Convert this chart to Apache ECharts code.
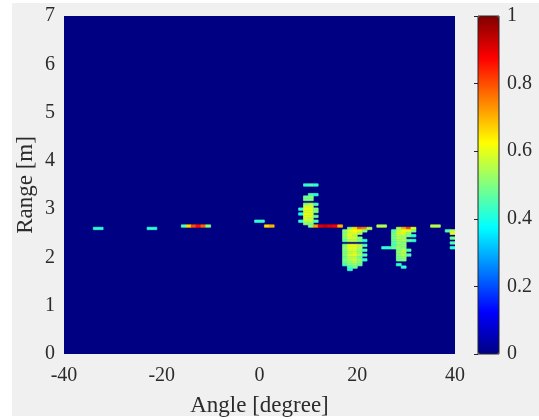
<!DOCTYPE html>
<html>
<head>
<meta charset="utf-8">
<script src="https://cdn.jsdelivr.net/npm/echarts@6/dist/echarts.min.js"></script>
<style>
html,body{margin:0;padding:0;background:#ffffff;}
#bg{position:absolute;left:12px;top:3px;width:527px;height:413px;background:#f0f0f0;}
#chart{position:absolute;left:0;top:0;width:539px;height:420px;}
</style>
</head>
<body>
<div id="bg"></div>
<div id="chart"></div>
<script>
// ---- data: [angle (deg, cell centre), range (m, cell centre), intensity] ----
const angleTicks = [-40, -20, 0, 20, 40];
const rangeTicks = [0, 1, 2, 3, 4, 5, 6, 7];
const colorTicks = [0, 0.2, 0.4, 0.6, 0.8, 1];
const cellAngleStep = 1;
const cellRangeStep = 0.05;

const isolatedCells = [
  [-33.5, 2.60, 0.42], [-32.5, 2.60, 0.42],
  [-22.5, 2.60, 0.42], [-21.5, 2.60, 0.42],
  [-15.5, 2.65, 0.45], [-14.5, 2.65, 0.66], [-13.5, 2.65, 0.80], [-12.5, 2.65, 0.86], [-11.5, 2.65, 0.78], [-10.5, 2.65, 0.50],
  [-0.5, 2.75, 0.42], [0.5, 2.75, 0.42],
  [1.5, 2.65, 0.66], [2.5, 2.65, 0.70],
  [24.5, 2.65, 0.55], [25.5, 2.65, 0.55],
  [35.5, 2.65, 0.55], [36.5, 2.65, 0.55]
];

const redLineCells = [
  [10.5, 2.65, 0.50], [11.5, 2.65, 0.72], [12.5, 2.65, 0.90], [13.5, 2.65, 0.93],
  [14.5, 2.65, 0.90], [15.5, 2.65, 0.88], [16.5, 2.65, 0.70]
];

const cluster10 = [
  [9.5, 3.50, 0.42], [10.5, 3.50, 0.45], [11.5, 3.50, 0.42],
  [10.5, 3.30, 0.45], [11.5, 3.30, 0.42],
  [9.5, 3.25, 0.48], [10.5, 3.25, 0.50],
  [9.5, 3.20, 0.50], [10.5, 3.20, 0.50],
  [9.5, 3.10, 0.50], [10.5, 3.10, 0.55], [11.5, 3.10, 0.45],
  [9.5, 3.05, 0.58], [10.5, 3.05, 0.58],
  [8.5, 3.00, 0.42], [9.5, 3.00, 0.60], [10.5, 3.00, 0.60], [11.5, 3.00, 0.50],
  [9.5, 2.95, 0.58], [10.5, 2.95, 0.60], [11.5, 2.95, 0.50],
  [8.5, 2.90, 0.40], [9.5, 2.90, 0.60], [10.5, 2.90, 0.58],
  [9.5, 2.85, 0.60], [10.5, 2.85, 0.60], [11.5, 2.85, 0.48],
  [9.5, 2.80, 0.58], [10.5, 2.80, 0.56],
  [8.5, 2.75, 0.42], [9.5, 2.75, 0.55], [10.5, 2.75, 0.58], [11.5, 2.75, 0.45],
  [9.5, 2.70, 0.52], [10.5, 2.70, 0.50]
];

const cluster20 = [
  [18.5, 2.60, 0.50], [19.5, 2.60, 0.65], [20.5, 2.60, 0.78], [21.5, 2.60, 0.75], [22.5, 2.60, 0.55],
  [17.5, 2.55, 0.50], [18.5, 2.55, 0.60], [19.5, 2.55, 0.62], [20.5, 2.55, 0.60], [21.5, 2.55, 0.50],
  [17.5, 2.50, 0.50], [18.5, 2.50, 0.58], [19.5, 2.50, 0.60], [20.5, 2.50, 0.55],
  [17.5, 2.45, 0.52], [18.5, 2.45, 0.60], [19.5, 2.45, 0.55],
  [17.5, 2.40, 0.50], [18.5, 2.40, 0.58], [19.5, 2.40, 0.58], [20.5, 2.40, 0.50],
  [17.5, 2.35, 0.48], [18.5, 2.35, 0.55], [19.5, 2.35, 0.55], [20.5, 2.35, 0.50], [21.5, 2.35, 0.42],
  [17.5, 2.25, 0.50], [18.5, 2.25, 0.60], [19.5, 2.25, 0.60], [20.5, 2.25, 0.55], [21.5, 2.25, 0.45],
  [17.5, 2.20, 0.52], [18.5, 2.20, 0.60], [19.5, 2.20, 0.60], [20.5, 2.20, 0.55],
  [17.5, 2.15, 0.50], [18.5, 2.15, 0.58], [19.5, 2.15, 0.58], [20.5, 2.15, 0.52], [21.5, 2.15, 0.45],
  [17.5, 2.10, 0.50], [18.5, 2.10, 0.55], [19.5, 2.10, 0.58], [20.5, 2.10, 0.50],
  [17.5, 2.05, 0.50], [18.5, 2.05, 0.58], [19.5, 2.05, 0.60], [20.5, 2.05, 0.55], [21.5, 2.05, 0.45],
  [17.5, 2.00, 0.48], [18.5, 2.00, 0.55], [19.5, 2.00, 0.55], [20.5, 2.00, 0.48],
  [17.5, 1.95, 0.50], [18.5, 1.95, 0.55], [19.5, 1.95, 0.58], [20.5, 1.95, 0.52], [21.5, 1.95, 0.42],
  [17.5, 1.90, 0.48], [18.5, 1.90, 0.52], [19.5, 1.90, 0.55], [20.5, 1.90, 0.50],
  [17.5, 1.85, 0.45], [18.5, 1.85, 0.50], [19.5, 1.85, 0.52], [20.5, 1.85, 0.48],
  [18.5, 1.80, 0.45], [19.5, 1.80, 0.48],
  [18.5, 1.75, 0.42]
];

const cluster30 = [
  [28.5, 2.60, 0.55], [29.5, 2.60, 0.70], [30.5, 2.60, 0.80], [31.5, 2.60, 0.62],
  [27.5, 2.55, 0.45], [28.5, 2.55, 0.55], [29.5, 2.55, 0.60], [30.5, 2.55, 0.60], [31.5, 2.55, 0.50],
  [27.5, 2.50, 0.48], [28.5, 2.50, 0.58], [29.5, 2.50, 0.60], [30.5, 2.50, 0.52],
  [27.5, 2.45, 0.50], [28.5, 2.45, 0.55], [29.5, 2.45, 0.55], [30.5, 2.45, 0.50], [31.5, 2.45, 0.42],
  [27.5, 2.40, 0.48], [28.5, 2.40, 0.55], [29.5, 2.40, 0.52],
  [27.5, 2.35, 0.48], [28.5, 2.35, 0.52], [29.5, 2.35, 0.55], [30.5, 2.35, 0.48], [31.5, 2.35, 0.42],
  [27.5, 2.30, 0.45], [28.5, 2.30, 0.52], [29.5, 2.30, 0.50],
  [27.5, 2.25, 0.45], [28.5, 2.25, 0.50], [29.5, 2.25, 0.52],
  [25.5, 2.20, 0.42], [26.5, 2.20, 0.42], [27.5, 2.20, 0.48], [28.5, 2.20, 0.52], [29.5, 2.20, 0.50],
  [28.5, 2.15, 0.50], [29.5, 2.15, 0.55], [30.5, 2.15, 0.45],
  [28.5, 2.10, 0.52], [29.5, 2.10, 0.55],
  [28.5, 2.05, 0.50], [29.5, 2.05, 0.55], [30.5, 2.05, 0.45],
  [28.5, 2.00, 0.50], [29.5, 2.00, 0.52],
  [28.5, 1.95, 0.48], [29.5, 1.95, 0.50],
  [28.5, 1.85, 0.42],
  [29.5, 1.80, 0.42]
];

const cluster40 = [
  [38.5, 2.55, 0.45], [39.5, 2.55, 0.55],
  [39.5, 2.50, 0.60],
  [39.5, 2.40, 0.48],
  [39.5, 2.30, 0.45],
  [39.5, 2.20, 0.42]
];

const jetColors = ['#000083', '#0000ff', '#0080ff', '#00ffff', '#80ff80', '#ffff00', '#ff8000', '#ff0000', '#800000'];

const allCells = [].concat(isolatedCells, redLineCells, cluster10, cluster20, cluster30, cluster40);

const FONT = "'Liberation Serif', 'Times New Roman', serif";
const TXT = '#2b2b2b';

const chart = echarts.init(document.getElementById('chart'), null, {renderer: 'canvas'});
chart.setOption({
  backgroundColor: 'transparent',
  animation: false,
  grid: [
    {left: 64, top: 16, width: 391, height: 338, show: true, backgroundColor: jetColors[0], borderWidth: 0,
     containLabel: false, outerBoundsMode: 'none'},
    {left: 478, top: 16, width: 21, height: 338, show: true, backgroundColor: 'transparent', borderColor: '#262626', borderWidth: 1, z: 10,
     containLabel: false, outerBoundsMode: 'none'}
  ],
  xAxis: [
    {
      type: 'value', gridIndex: 0, min: -40, max: 40, interval: 20,
      name: 'Angle [degree]', nameLocation: 'middle', nameGap: 40, nameMoveOverlap: false,
      nameTextStyle: {fontFamily: FONT, fontSize: 23, color: TXT},
      axisLine: {show: false}, axisTick: {show: false}, splitLine: {show: false},
      axisLabel: {fontFamily: FONT, fontSize: 20, color: TXT, margin: 12}
    },
    {type: 'value', gridIndex: 1, min: 0, max: 1, show: false}
  ],
  yAxis: [
    {
      type: 'value', gridIndex: 0, min: 0, max: 7, interval: 1,
      name: 'Range [m]', nameLocation: 'middle', nameGap: 27, nameRotate: 90, nameMoveOverlap: false,
      nameTextStyle: {fontFamily: FONT, fontSize: 23, color: TXT},
      axisLine: {show: false}, axisTick: {show: false}, splitLine: {show: false},
      axisLabel: {fontFamily: FONT, fontSize: 20, color: TXT, margin: 9, padding: [10, 0, 0, 0]}
    },
    {
      type: 'value', gridIndex: 1, min: 0, max: 1, interval: 0.2, position: 'right', z: 10,
      axisLine: {show: false}, splitLine: {show: false},
      axisTick: {show: true, inside: true, length: 4, lineStyle: {color: '#262626'}},
      axisLabel: {fontFamily: FONT, fontSize: 20, color: TXT, margin: 8, padding: [10, 0, 0, 0],
        formatter: function (v) { return String(Math.round(v * 10) / 10); }}
    }
  ],
  visualMap: {
    type: 'continuous', min: 0, max: 1, dimension: 2, seriesIndex: 0,
    orient: 'vertical', left: 478, top: 16, itemWidth: 21, itemHeight: 338,
    padding: 0, calculable: false, hoverLink: false,
    inRange: {color: jetColors},
    textStyle: {color: 'transparent'}
  },
  series: [{
    type: 'custom', xAxisIndex: 0, yAxisIndex: 0, clip: true,
    encode: {x: 0, y: 1},
    data: allCells,
    renderItem: function (params, api) {
      const a = api.value(0), r = api.value(1);
      const p1 = api.coord([a - cellAngleStep / 2, r + cellRangeStep / 2]);
      const p2 = api.coord([a + cellAngleStep / 2, r - cellRangeStep / 2]);
      const c = api.visual('color');
      return {
        type: 'rect',
        shape: {x: p1[0], y: p1[1], width: p2[0] - p1[0], height: p2[1] - p1[1]},
        style: {fill: c, stroke: c, lineWidth: 0.7}
      };
    }
  }]
});
</script>
</body>
</html>
